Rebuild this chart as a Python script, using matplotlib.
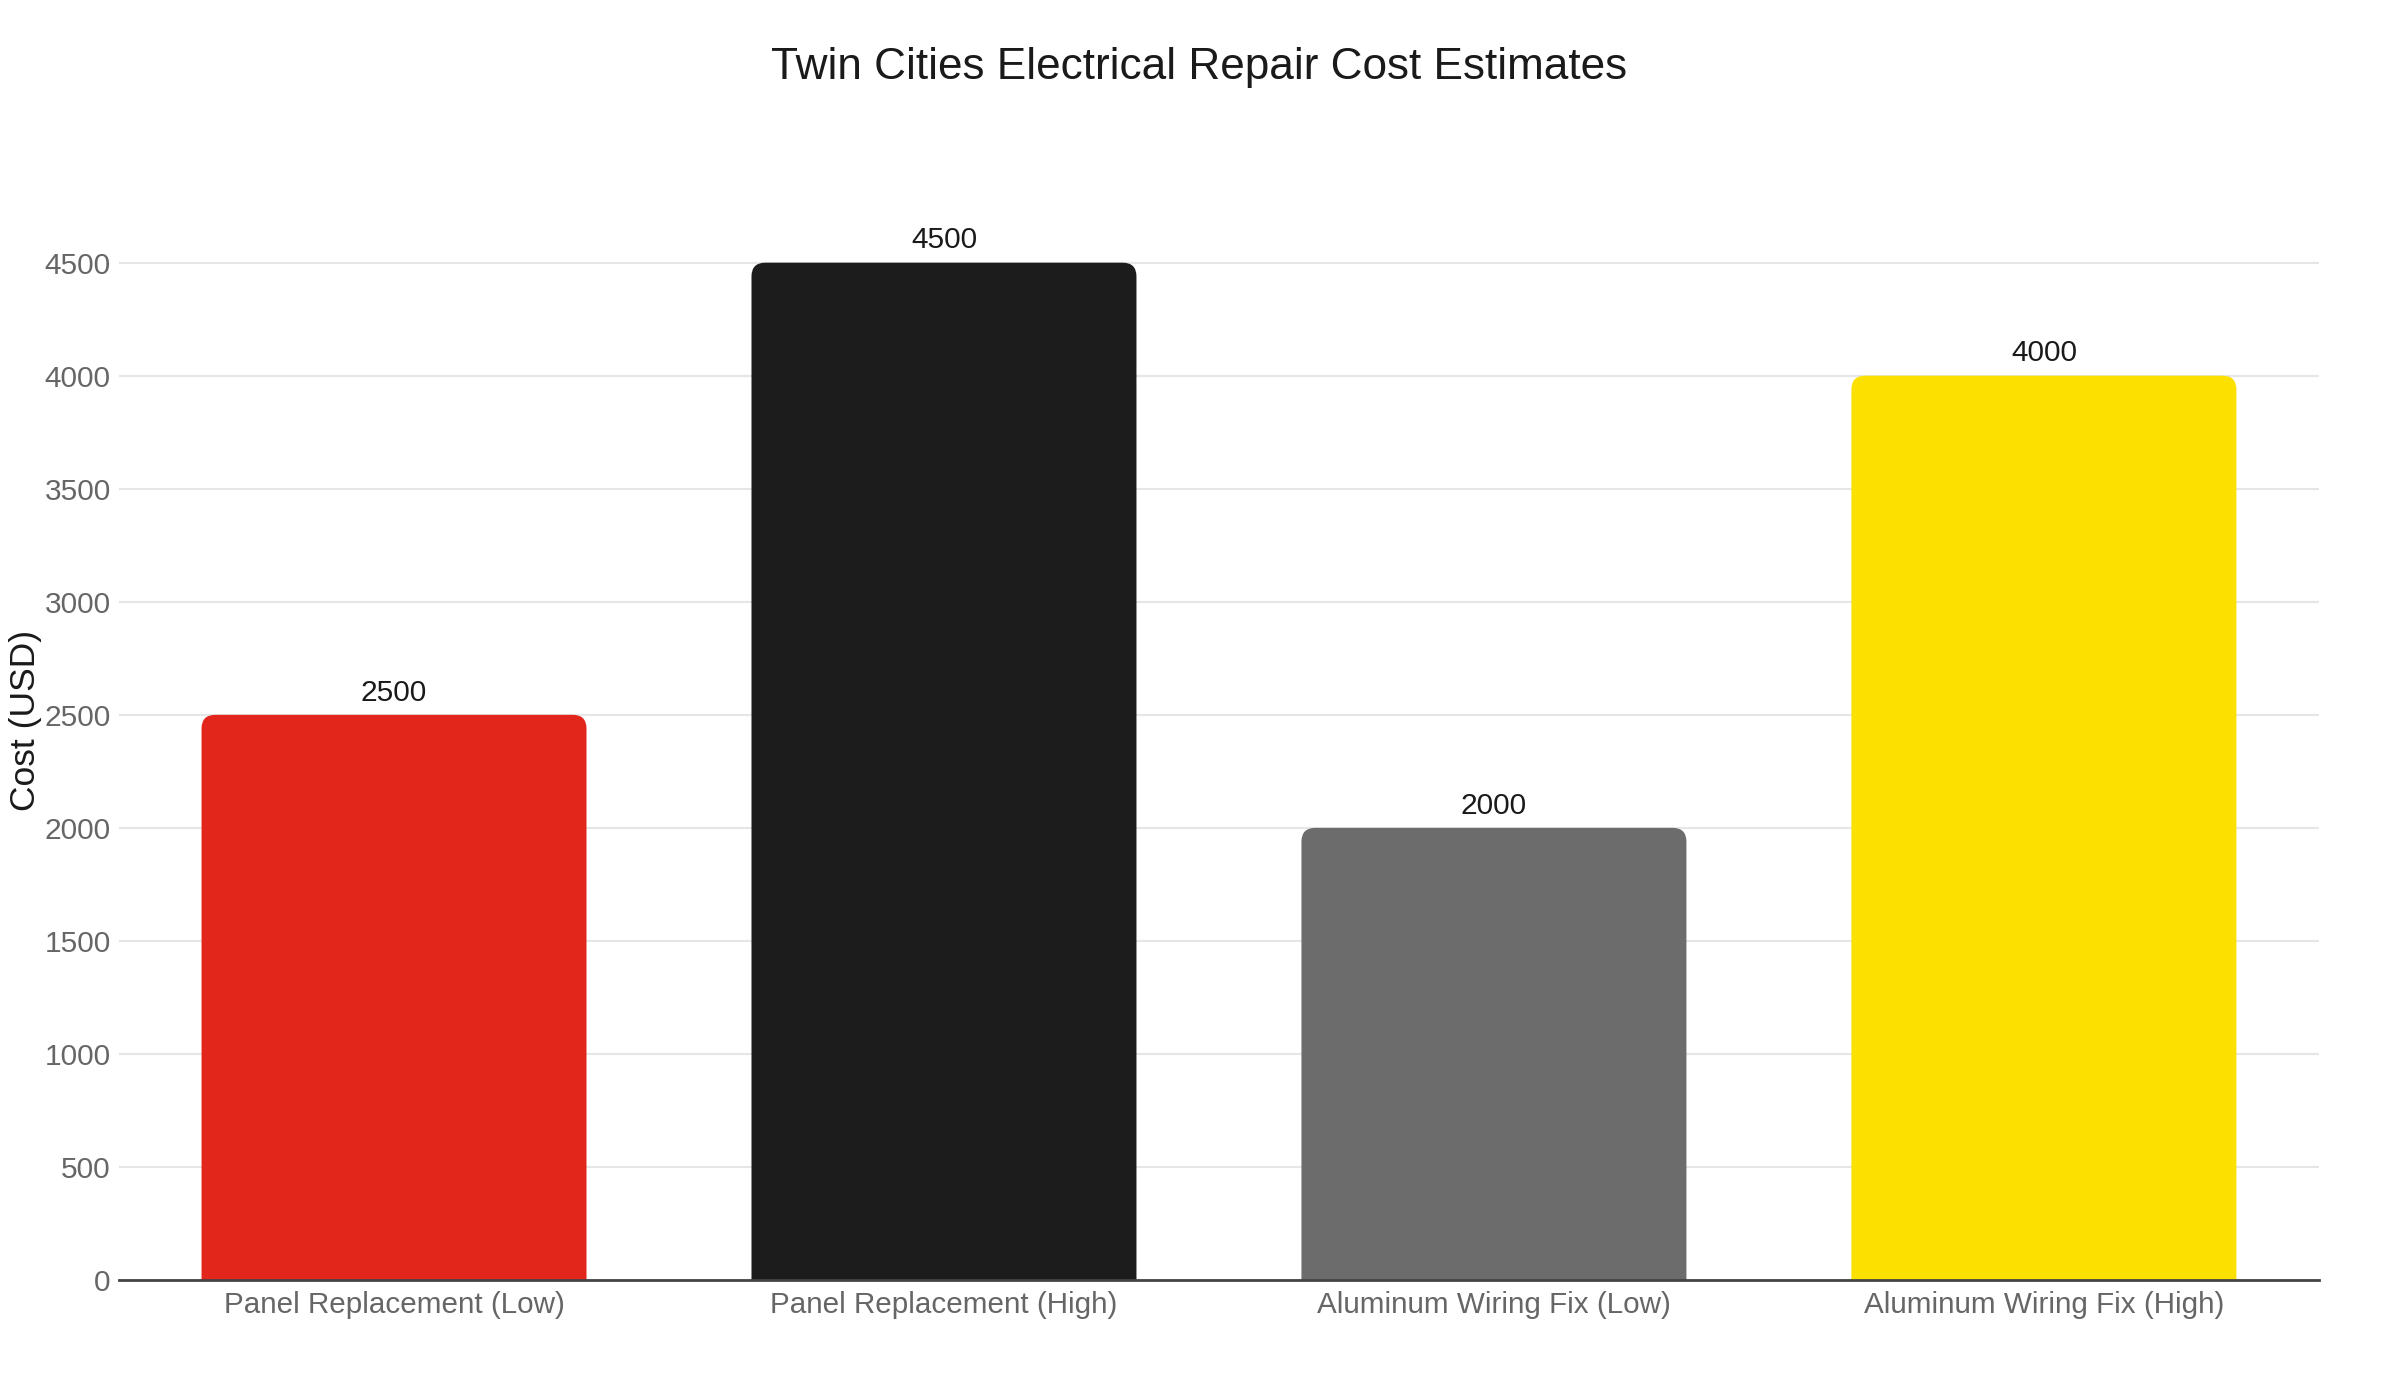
import matplotlib.pyplot as plt
from matplotlib.patches import FancyBboxPatch

# Datos
categorias = ['Panel Replacement (Low)', 'Panel Replacement (High)',
              'Aluminum Wiring Fix (Low)', 'Aluminum Wiring Fix (High)']
costos = [2500, 4500, 2000, 4000]
colores = ['#E2261C', '#1C1C1C', '#6C6C6C', '#FBE000']
marcas_y = [0, 500, 1000, 1500, 2000, 2500, 3000, 3500, 4000, 4500]

plt.rcParams['font.family'] = ['Liberation Sans', 'DejaVu Sans']

fig = plt.figure(figsize=(24, 14), dpi=100)
ax = fig.add_axes([0.0496, 0.0857, 0.9166, 0.763])

x = range(len(categorias))
barras = ax.bar(x, costos, width=0.7, color=colores)
ax.set_xlim(-0.5, len(categorias) - 0.5)
ax.set_ylim(0, 4725)

# Esquinas superiores redondeadas: reemplazar cada barra por una caja redondeada
fig.canvas.draw()
bb = ax.get_window_extent()
aspecto = (4725 / bb.height) / (len(categorias) / bb.width)
for b in barras:
    caja = FancyBboxPatch((b.get_x(), -300), b.get_width(), b.get_height() + 300,
                          boxstyle='round,pad=0,rounding_size=0.025',
                          mutation_aspect=aspecto, facecolor=b.get_facecolor(),
                          edgecolor='none', zorder=2)
    ax.add_patch(caja)
    b.set_visible(False)

# Etiquetas de valores
for i, v in enumerate(costos):
    ax.annotate(str(v), (i, v), xytext=(0, 6), textcoords='offset points',
                ha='center', va='bottom', fontsize=21.5, color='#1a1a1a')

ax.set_xticks(list(x))
ax.set_xticklabels(categorias, fontsize=21.3, color='#666666')
ax.set_yticks(marcas_y)
ax.set_yticklabels([str(m) for m in marcas_y], fontsize=21.5, color='#666666')
ax.tick_params(axis='both', length=0)
ax.tick_params(axis='x', pad=8)
ax.tick_params(axis='y', pad=6)

ax.grid(axis='y', color='#e6e6e6', linewidth=1.5, zorder=0)
ax.set_axisbelow(True)
for lado in ['top', 'right', 'left']:
    ax.spines[lado].set_visible(False)
ax.spines['bottom'].set_color('#444444')
ax.spines['bottom'].set_linewidth(2)
ax.spines['bottom'].set_zorder(3)

ax.set_ylabel('Cost (USD)', fontsize=25.5, color='#1a1a1a', va='center')
ax.yaxis.set_label_coords(-0.0425, 0.524)

fig.text(0.4995, 0.952, 'Twin Cities Electrical Repair Cost Estimates',
         ha='center', va='center', fontsize=31.8, color='#1a1a1a')

plt.savefig('out.png')
